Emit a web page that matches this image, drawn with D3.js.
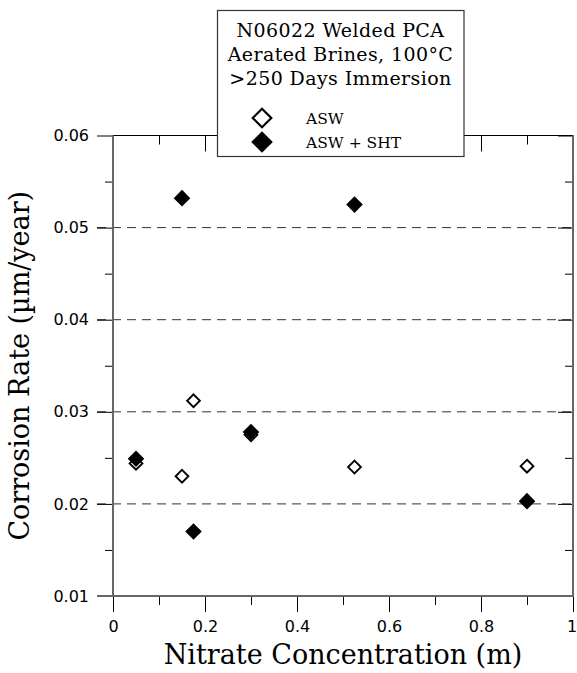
<!DOCTYPE html>
<html>
<head>
<meta charset="utf-8">
<script src="https://cdn.jsdelivr.net/npm/d3@7"></script>
<style>
  html, body { margin: 0; padding: 0; background: #fff; }
  svg { display: block; }
</style>
</head>
<body>
<svg id="chart" width="577" height="673"></svg>
<script>
// Nitrate concentration (m) for each test condition
const asw_x   = [0.05, 0.15, 0.175, 0.30, 0.525, 0.90];
const asw_y   = [0.0244, 0.0230, 0.0312, 0.0275, 0.0240, 0.0241];
const sht_x   = [0.05, 0.15, 0.175, 0.30, 0.525, 0.90];
const sht_y   = [0.0249, 0.0532, 0.0170, 0.0278, 0.0525, 0.0203];

const xMajor = [0, 0.2, 0.4, 0.6, 0.8, 1];
const xMinor = [0.1, 0.3, 0.5, 0.7, 0.9];
const yMajor = [0.01, 0.02, 0.03, 0.04, 0.05, 0.06];
const yMinor = [0.015, 0.025, 0.035, 0.045, 0.055];
const gridVals = [0.02, 0.03, 0.04, 0.05];

const titleLines = ["N06022 Welded PCA", "Aerated Brines, 100\u00B0C", ">250 Days Immersion"];
const seriesNames = ["ASW", "ASW + SHT"];
const xTitle = "Nitrate Concentration (m)";
const yTitle = "Corrosion Rate (\u00B5m/year)";

const L = 113, R = 573, T = 135.5, B = 596;
const svg = d3.select("#chart");

const x = d3.scaleLinear().domain([0, 1]).range([L, R]);
const y = d3.scaleLinear().domain([0.01, 0.06]).range([B, T]);

const xFmt = d => d === 0 ? "0" : d === 1 ? "1" : d3.format(".1f")(d);
const yFmt = d3.format(".2f");

function styleAxis(g) {
  g.select(".domain").remove();
  g.selectAll(".tick line").attr("stroke", "#000").attr("stroke-width", 1);
  g.selectAll(".tick text")
    .attr("font-family", "'DejaVu Sans', sans-serif")
    .attr("font-size", 16)
    .attr("fill", "#000");
}

// dashed gridlines
svg.append("g").selectAll("line").data(gridVals).join("line")
  .attr("x1", L - 16).attr("x2", R)
  .attr("y1", d => y(d)).attr("y2", d => y(d))
  .attr("stroke", "#333").attr("stroke-width", 1)
  .attr("stroke-dasharray", "9,6");

// bottom axis with labels
const bottom = svg.append("g").attr("transform", `translate(0,${B})`)
  .call(d3.axisBottom(x).tickValues(xMajor).tickSize(16).tickPadding(9).tickFormat(xFmt))
  .call(styleAxis);
// keep the last label inside the canvas
bottom.selectAll(".tick text").filter(d => d === 1).attr("dx", -1.5);
svg.append("g").attr("transform", `translate(0,${B})`)
  .call(d3.axisBottom(x).tickValues(xMinor).tickSize(9).tickFormat(""))
  .call(styleAxis);

// top axis, ticks pointing inward
svg.append("g").attr("transform", `translate(0,${T})`)
  .call(d3.axisBottom(x).tickValues(xMajor).tickSize(16).tickFormat(""))
  .call(styleAxis);
svg.append("g").attr("transform", `translate(0,${T})`)
  .call(d3.axisBottom(x).tickValues(xMinor).tickSize(9).tickFormat(""))
  .call(styleAxis);

// left axis with labels
svg.append("g").attr("transform", `translate(${L},0)`)
  .call(d3.axisLeft(y).tickValues(yMajor).tickSize(16).tickPadding(8).tickFormat(yFmt))
  .call(styleAxis);
svg.append("g").attr("transform", `translate(${L},0)`)
  .call(d3.axisLeft(y).tickValues(yMinor).tickSize(8).tickFormat(""))
  .call(styleAxis);

// right axis, ticks pointing inward
svg.append("g").attr("transform", `translate(${R},0)`)
  .call(d3.axisLeft(y).tickValues(yMajor).tickSize(15).tickFormat(""))
  .call(styleAxis);
svg.append("g").attr("transform", `translate(${R},0)`)
  .call(d3.axisLeft(y).tickValues(yMinor).tickSize(8).tickFormat(""))
  .call(styleAxis);

// frame
const frame = svg.append("g");
frame.append("line").attr("x1", L).attr("x2", R).attr("y1", T).attr("y2", T)
  .attr("stroke", "#000").attr("stroke-width", 1);
frame.append("line").attr("x1", L).attr("x2", L).attr("y1", T).attr("y2", B)
  .attr("stroke", "#666").attr("stroke-width", 2);
frame.append("line").attr("x1", R).attr("x2", R).attr("y1", T).attr("y2", B + 1)
  .attr("stroke", "#666").attr("stroke-width", 2);
frame.append("line").attr("x1", L - 16).attr("x2", R + 1).attr("y1", B).attr("y2", B)
  .attr("stroke", "#666").attr("stroke-width", 2);

// diamond path centred at origin
const diamond = r => `M0,${-r}L${r},0L0,${r}L${-r},0Z`;

const pts = svg.append("g");
pts.selectAll("path.asw").data(asw_x.map((d, i) => [d, asw_y[i]])).join("path")
  .attr("class", "asw")
  .attr("d", diamond(6.4))
  .attr("transform", d => `translate(${x(d[0])},${y(d[1])})`)
  .attr("fill", "#fff").attr("stroke", "#000").attr("stroke-width", 1.9);
pts.selectAll("path.sht").data(sht_x.map((d, i) => [d, sht_y[i]])).join("path")
  .attr("class", "sht")
  .attr("d", diamond(8.3))
  .attr("transform", d => `translate(${x(d[0])},${y(d[1])})`)
  .attr("fill", "#000").attr("stroke", "none");

// axis titles
svg.append("text")
  .attr("x", (L + R) / 2).attr("y", 664)
  .attr("text-anchor", "middle")
  .attr("font-family", "'DejaVu Serif', serif").attr("font-size", 27)
  .text(xTitle);
svg.append("text")
  .attr("transform", `translate(29,${(T + B) / 2}) rotate(-90)`)
  .attr("text-anchor", "middle")
  .attr("font-family", "'DejaVu Serif', serif").attr("font-size", 27)
  .text(yTitle);

// legend box
const lg = svg.append("g");
lg.append("rect").attr("x", 217.5).attr("y", 10.5).attr("width", 246.5).attr("height", 146)
  .attr("fill", "#fff").attr("stroke", "#333").attr("stroke-width", 1.2);
lg.selectAll("text.title").data(titleLines).join("text")
  .attr("class", "title")
  .attr("x", 340.5).attr("y", (d, i) => 37 + i * 24)
  .attr("text-anchor", "middle")
  .attr("font-family", "'DejaVu Serif', serif").attr("font-size", 19)
  .attr("letter-spacing", 0.4)
  .text(d => d);
lg.append("path").attr("d", diamond(9.3))
  .attr("transform", "translate(262,118)")
  .attr("fill", "#fff").attr("stroke", "#000").attr("stroke-width", 2.2);
lg.append("path").attr("d", diamond(10.8))
  .attr("transform", "translate(262,142)")
  .attr("fill", "#000");
lg.selectAll("text.item").data(seriesNames).join("text")
  .attr("class", "item")
  .attr("x", 306).attr("y", (d, i) => 124 + i * 24)
  .attr("font-family", "'DejaVu Serif', serif").attr("font-size", 15.5)
  .text(d => d);
</script>
</body>
</html>
